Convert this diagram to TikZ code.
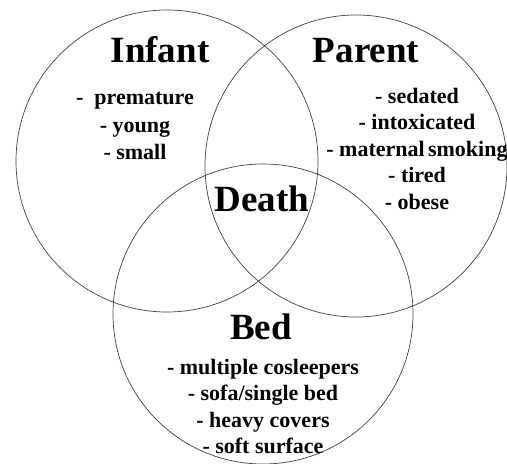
\documentclass[tikz,border=0pt]{standalone}
\usepackage{fontspec}
\setmainfont{Liberation Serif}
\usepackage{tikz}
\usetikzlibrary{positioning}

\begin{document}
\begin{tikzpicture}[
  x=1bp, y=-1bp,
  ring/.style={draw=black!75, line width=0.7bp, circle, inner sep=0pt, minimum size=#1},
  ring/.default=302bp,
  title/.style={anchor=base, inner sep=0pt, font=\bfseries\fontsize{37bp}{40bp}\selectfont},
  lbl/.style={anchor=north, inner sep=0pt, align=center, font=\bfseries\fontsize{22bp}{26.5bp}\selectfont}
]
\useasboundingbox (0,0) rectangle (507,464);

% the three circles
\node[ring] (infant) at (167,161) {};
\node[ring] (parent) at (356,166) {};
\node[ring=300bp] (bed) at (263,314) {};

% titles
\node[title] (infanttitle) at (160,63) {Infant};
\node[title] (parenttitle) at (366,63) {Parent};
\node[title] (death) at (262,212) {Death};
\node[title] (bedtitle) at (261,339) {Bed};

% risk factors
\node[lbl] (infantlist) at (135,92) {-\ \ premature\\[1bp]- young\\[1bp]- small};
\node[lbl] (parentlist) at (417,88) {- sedated\\- intoxicated\\- maternal\hspace{0.15em}smoking\\- tired\\- obese};
\node[lbl] (bedlist) at (263,359) {- multiple cosleepers\\- sofa/single bed\\- heavy covers\\- soft surface};
\end{tikzpicture}
\end{document}
